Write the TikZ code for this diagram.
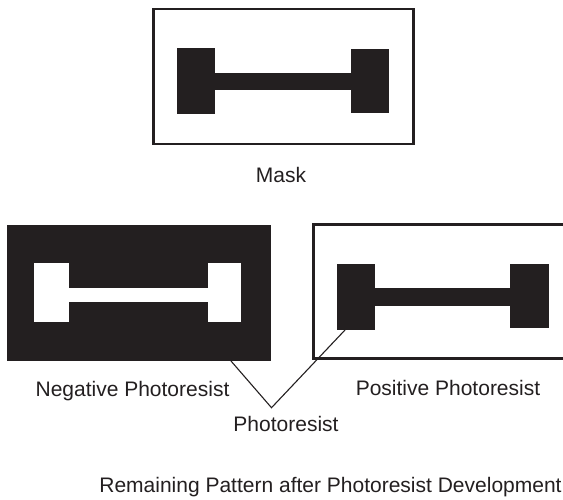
\documentclass[tikz,border=0pt]{standalone}
\usepackage{fontspec}
\setmainfont{Liberation Sans}
\definecolor{ink}{HTML}{231F20}
\begin{document}
\begin{tikzpicture}[x=1pt,y=-1pt,
  frame/.style={draw=ink,line width=2.8pt},
  solid ink/.style={fill=ink},
  leader/.style={draw=ink,line width=1.1pt},
  lbl/.style={inner sep=0pt,anchor=base,text=ink,font=\fontsize{21}{25}\selectfont}]
\useasboundingbox (0,0) rectangle (563,499);
% Mask
\draw[frame] (153.7,9) rectangle (413.3,144);
\fill[solid ink] (176.7,48.3) rectangle (214.9,114.3);
\fill[solid ink] (214.5,72.7) rectangle (350.9,90);
\fill[solid ink] (350.7,48.7) rectangle (388.7,113.3);
\node[lbl] (mask) at (281,182.7) {Mask};
% Negative photoresist
\fill[solid ink] (7.3,225) rectangle (271,361);
\fill[white] (34.3,263.3) rectangle (68.5,322.3);
\fill[white] (68.3,287.7) rectangle (208.5,302.3);
\fill[white] (208.3,263.3) rectangle (241,322.3);
% Positive photoresist
\draw[frame] (563,224.7) -- (313.3,224.7) -- (313.3,358.3) -- (563,358.3);
\fill[solid ink] (336.7,263.7) rectangle (374.5,329.7);
\fill[solid ink] (374.3,288.3) rectangle (510.2,305.7);
\fill[solid ink] (510,264.3) rectangle (548.5,328.3);
% Labels
\node[lbl] (neg) at (132.5,396.5) {Negative Photoresist};
\node[lbl] (pos) at (448,395) {Positive Photoresist};
\node[lbl] (pr) at (286,431.7) {Photoresist};
\node[lbl] (title) at (330.5,492.7) {Remaining Pattern after Photoresist Development};
% Leaders
\coordinate (negpt) at (231,361);
\coordinate (pospt) at (345,330);
\coordinate (apex) at (271.5,407.7);
\draw[leader] (negpt) -- (apex) -- (pospt);
\end{tikzpicture}
\end{document}
